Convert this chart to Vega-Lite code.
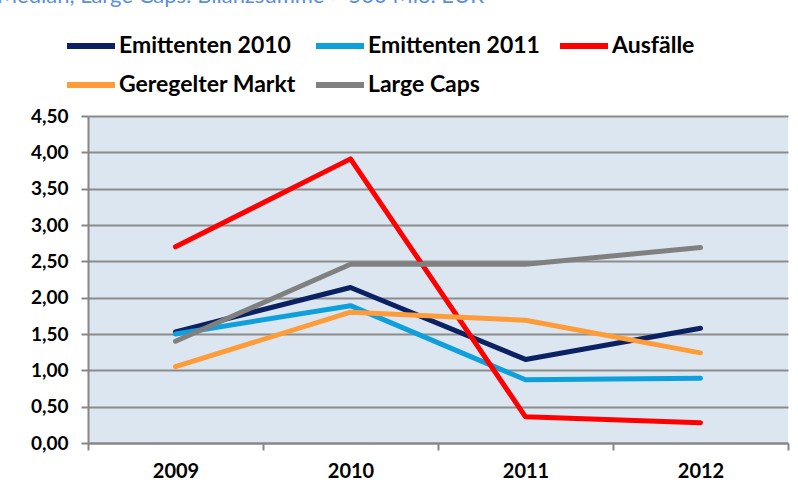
{
  "$schema": "https://vega.github.io/schema/vega-lite/v6.json",
  "width": 700,
  "height": 327,
  "autosize": {"type": "none"},
  "padding": {"left": 88, "top": 116, "right": 10, "bottom": 48},
  "background": "#ffffff",
  "title": {
    "text": "Median, Large Caps: Bilanzsumme > 500 Mio. EUR",
    "anchor": "start",
    "frame": "group",
    "dx": -91,
    "dy": -7,
    "font": "Lato",
    "fontSize": 22,
    "fontWeight": "normal",
    "color": "#5b8fd8"
  },
  "config": {
    "locale": {"number": {"decimal": ",", "thousands": ".", "grouping": [3], "currency": ["", " €"]}},
    "view": {"fill": "#dce6f1", "stroke": null},
    "font": "Lato",
    "axis": {
      "domainColor": "#868686",
      "domainWidth": 2,
      "tickColor": "#868686",
      "tickWidth": 2,
      "tickSize": 7,
      "gridColor": "#8c8c8c",
      "gridWidth": 2,
      "labelFont": "Lato",
      "labelFontWeight": "bold",
      "labelColor": "#000000",
      "title": null
    }
  },
  "data": {
    "values": [
      {"serie": "Emittenten 2010", "jahr": "2009", "wert": 1.53},
      {"serie": "Emittenten 2010", "jahr": "2010", "wert": 2.14},
      {"serie": "Emittenten 2010", "jahr": "2011", "wert": 1.15},
      {"serie": "Emittenten 2010", "jahr": "2012", "wert": 1.58},
      {"serie": "Emittenten 2011", "jahr": "2009", "wert": 1.5},
      {"serie": "Emittenten 2011", "jahr": "2010", "wert": 1.89},
      {"serie": "Emittenten 2011", "jahr": "2011", "wert": 0.87},
      {"serie": "Emittenten 2011", "jahr": "2012", "wert": 0.89},
      {"serie": "Ausfälle", "jahr": "2009", "wert": 2.7},
      {"serie": "Ausfälle", "jahr": "2010", "wert": 3.91},
      {"serie": "Ausfälle", "jahr": "2011", "wert": 0.36},
      {"serie": "Ausfälle", "jahr": "2012", "wert": 0.28},
      {"serie": "Geregelter Markt", "jahr": "2009", "wert": 1.05},
      {"serie": "Geregelter Markt", "jahr": "2010", "wert": 1.8},
      {"serie": "Geregelter Markt", "jahr": "2011", "wert": 1.69},
      {"serie": "Geregelter Markt", "jahr": "2012", "wert": 1.24},
      {"serie": "Large Caps", "jahr": "2009", "wert": 1.4},
      {"serie": "Large Caps", "jahr": "2010", "wert": 2.46},
      {"serie": "Large Caps", "jahr": "2011", "wert": 2.46},
      {"serie": "Large Caps", "jahr": "2012", "wert": 2.69}
    ]
  },
  "mark": {"type": "line", "strokeWidth": 5, "strokeCap": "round", "strokeJoin": "round"},
  "encoding": {
    "x": {
      "field": "jahr",
      "type": "ordinal",
      "scale": {"type": "band", "paddingInner": 0, "paddingOuter": 0},
      "axis": {"labelAngle": 0, "tickBand": "extent", "labelFontSize": 20, "labelPadding": 11, "grid": false}
    },
    "y": {
      "field": "wert",
      "type": "quantitative",
      "scale": {"domain": [0, 4.5], "nice": false, "zero": true},
      "axis": {"values": [0, 0.5, 1, 1.5, 2, 2.5, 3, 3.5, 4, 4.5], "format": ".2f", "labelFontSize": 19, "labelPadding": 13, "grid": true}
    },
    "color": {
      "field": "serie",
      "type": "nominal",
      "scale": {
        "domain": ["Emittenten 2010", "Emittenten 2011", "Ausfälle", "Geregelter Markt", "Large Caps"],
        "range": ["#0b2161", "#0da0dc", "#ff0000", "#ff9c3a", "#808080"]
      },
      "legend": {
        "title": null,
        "orient": "none",
        "legendX": -24,
        "legendY": -97,
        "direction": "horizontal",
        "columns": 3,
        "columnPadding": 8,
        "rowPadding": 0,
        "padding": 0,
        "symbolType": "stroke",
        "symbolSize": 2304,
        "symbolStrokeWidth": 6,
        "labelFont": "Lato",
        "labelFontSize": 23,
        "labelFontWeight": "bold",
        "labelColor": "#000000",
        "labelOffset": 1,
        "labelLimit": 400
      }
    }
  }
}
